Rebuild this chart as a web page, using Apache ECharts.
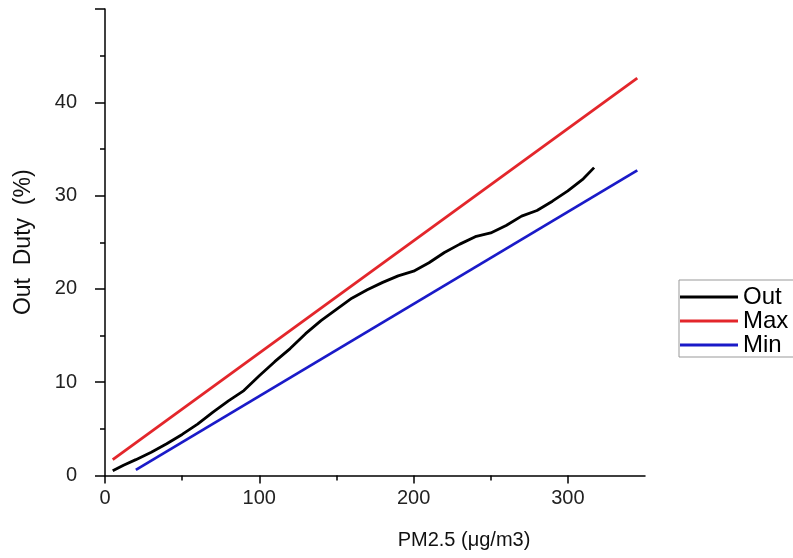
<!DOCTYPE html>
<html>
<head>
<meta charset="utf-8">
<script src="https://cdn.jsdelivr.net/npm/echarts@6/dist/echarts.min.js"></script>
<style>html,body{margin:0;padding:0;background:#fff;}#c{width:793px;height:558px;}</style>
</head>
<body>
<div id="c"></div>
<script>
var seriesNames = ['Out', 'Max', 'Min'];
var outData = [[5,0.5],[12,1.1],[20,1.7],[30,2.5],[40,3.4],[50,4.4],[60,5.5],[70,6.8],[80,8.0],[90,9.1],[100,10.7],[110,12.2],[120,13.6],[130,15.2],[140,16.6],[150,17.8],[160,19.0],[170,19.9],[180,20.7],[190,21.4],[200,21.9],[210,22.8],[220,23.9],[230,24.8],[240,25.6],[250,26.0],[260,26.8],[270,27.8],[280,28.4],[290,29.4],[300,30.5],[310,31.8],[317,33.0]];
var maxData = [[5,1.7],[345,42.6]];
var minData = [[20,0.6],[345,32.7]];
var xMajorTicks = [0,100,200,300];
var xMinorTicks = [50,150,250];

var chart = echarts.init(document.getElementById('c'));
var font = 'Liberation Sans, Arial, sans-serif';
var axisLine = {show:true, lineStyle:{color:'#000', width:1.5}};
chart.setOption({
  animation:false,
  backgroundColor:'#fff',
  grid:{left:105, right:148, top:9, bottom:82.5, containLabel:false},
  legend:{
    orient:'vertical', left:679, top:280,
    data:seriesNames,
    icon:'rect', itemWidth:58, itemHeight:3, itemGap:0,
    padding:[5,30,0,1],
    borderColor:'#999', borderWidth:1,
    textStyle:{fontFamily:font, fontSize:24, color:'#000', lineHeight:22.5}
  },
  xAxis:[{
    type:'value', min:0, max:350,
    name:'PM2.5 (μg/m3)', nameLocation:'middle', nameGap:55,
    nameTextStyle:{fontFamily:font, fontSize:20, color:'#111', padding:[0,0,0,178]},
    axisLine:axisLine,
    axisTick:{show:true, inside:false, length:8, customValues:xMajorTicks, lineStyle:{color:'#000', width:1.5}},
    axisLabel:{customValues:xMajorTicks, fontFamily:font, fontSize:20, color:'#222', margin:13},
    splitLine:{show:false}
  },{
    type:'value', min:0, max:350, position:'bottom',
    axisLine:{show:false},
    axisTick:{show:true, length:5, customValues:xMinorTicks, lineStyle:{color:'#000', width:1.5}},
    axisLabel:{show:false},
    splitLine:{show:false}
  }],
  yAxis:{
    type:'value', min:0, max:50, interval:10,
    name:'Out  Duty  (%)', nameLocation:'middle', nameGap:70, nameRotate:90,
    nameTextStyle:{fontFamily:font, fontSize:23, color:'#111'},
    axisLine:axisLine,
    axisTick:{show:true, length:10, lineStyle:{color:'#000', width:1.5}},
    minorTick:{show:true, splitNumber:2, length:5, lineStyle:{color:'#000', width:1.5}},
    axisLabel:{fontFamily:font, fontSize:20, color:'#222', margin:28, showMaxLabel:false},
    splitLine:{show:false}, minorSplitLine:{show:false}
  },
  series:[
    {name:'Out', type:'line', data:outData, showSymbol:false, smooth:false, lineStyle:{color:'#000', width:2.8}, itemStyle:{color:'#000'}},
    {name:'Max', type:'line', data:maxData, showSymbol:false, lineStyle:{color:'#e3262b', width:2.8}, itemStyle:{color:'#e3262b'}},
    {name:'Min', type:'line', data:minData, showSymbol:false, lineStyle:{color:'#1a1ac8', width:2.8}, itemStyle:{color:'#1a1ac8'}}
  ]
});
</script>
</body>
</html>
